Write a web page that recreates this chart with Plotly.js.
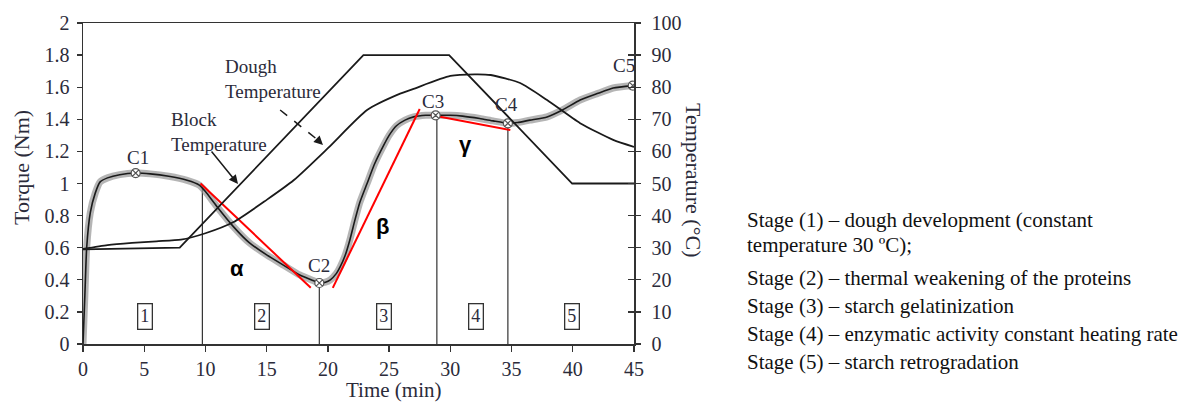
<!DOCTYPE html>
<html>
<head>
<meta charset="utf-8">
<script src="https://cdn.plot.ly/plotly-3.0.1.min.js"></script>
<style>
  html, body { margin: 0; padding: 0; background: #fff; }
  #chart { width: 1183px; height: 403px; }
</style>
</head>
<body>
<div id="chart"></div>
<script>
// ---- Data ----
const torqueTime = [0, 0.15, 0.3, 0.6, 1.0, 1.4, 2.0, 3.0, 4.3, 5.5, 7.0, 8.5, 9.5, 10.0, 10.9, 12.3, 13.6, 15.0, 16.4, 17.7, 18.8, 19.3, 19.8, 20.2, 20.7, 21.0, 21.4, 21.8, 22.2, 22.6, 23.2, 23.8, 24.5, 25.0, 25.6, 26.3, 27.0, 28.0, 28.8, 30.0, 31.0, 32.4, 33.5, 34.7, 35.5, 36.5, 37.9, 39.2, 40.6, 42.0, 43.3, 44.9];
const torqueNm   = [0, 0.30, 0.60, 0.82, 0.94, 1.01, 1.035, 1.055, 1.065, 1.06, 1.045, 1.02, 0.99, 0.95, 0.86, 0.73, 0.63, 0.555, 0.49, 0.43, 0.395, 0.38, 0.385, 0.40, 0.44, 0.48, 0.55, 0.65, 0.77, 0.88, 1.00, 1.12, 1.23, 1.30, 1.36, 1.395, 1.415, 1.425, 1.425, 1.425, 1.42, 1.405, 1.39, 1.375, 1.38, 1.395, 1.415, 1.46, 1.52, 1.56, 1.595, 1.61];

const doughTime = [0, 2, 4, 6, 8, 10, 12.3, 15, 17.2, 20, 23.2, 25.9, 27, 30, 32, 33.3, 35.7, 37.9, 40.6, 43.3, 45];
const doughTemp = [29.6, 30.8, 31.5, 32, 32.5, 34.5, 38, 44.9, 51, 61, 72.9, 78, 79.5, 83.5, 84, 83.8, 81.3, 76, 68.8, 63.6, 61.4];

const blockTime = [0, 7.9, 22.9, 29.9, 39.95, 45];
const blockTemp = [29.5, 30, 90, 90, 50, 50];

const pointLabels = ["C1", "C2", "C3", "C4", "C5"];
const pointTime   = [4.3, 19.3, 28.8, 34.7, 44.9];
const pointTorque = [1.065, 0.38, 1.425, 1.375, 1.61];
const labelTorque = [1.165, 0.49, 1.51, 1.49, 1.735];
const labelTime   = [4.5, 19.3, 28.6, 34.6, 44.2];

const boundTime = [9.75, 19.3, 28.9, 34.7];
const boundTop  = [0.98, 0.38, 1.42, 1.375];

const stageNames  = ["1", "2", "3", "4", "5"];
const stageTime   = [5.05, 14.6, 24.6, 32.1, 39.9];
const stageTorque = 0.174;

const tangentNames = ["α", "β", "γ"];
const tangentX = [[9.6, 18.6], [20.4, 27.5], [28.4, 34.9]];
const tangentY = [[1.0, 0.35], [0.35, 1.464], [1.427, 1.333]];
const greekTime   = [12.6, 24.5, 31.2];
const greekTorque = [0.47, 0.735, 1.24];

const stageDescriptions = [
  "Stage (1) – dough development (constant",
  "temperature 30 ºC);",
  "Stage (2) – thermal weakening of the proteins",
  "Stage (3) – starch gelatinization",
  "Stage (4) – enzymatic activity constant heating rate",
  "Stage (5) – starch retrogradation"
];
const descY = [220, 245, 278, 306, 334, 362];

// ---- Figure ----
const W = 1183, H = 403;
const M = {l: 83, r: 549, t: 23, b: 59};
const plotH = H - M.t - M.b;
const pyPaper = py => (H - M.b - py) / plotH;
const pxPaper = px => (px - M.l) / (W - M.l - M.r);

const serif = "Liberation Serif, Times New Roman, serif";
const ink = "#2b2b3a";

const traces = [];

// block temperature
traces.push({x: blockTime, y: blockTemp, yaxis: 'y2', mode: 'lines',
  line: {color: '#1a1a1a', width: 1.8}, hoverinfo: 'skip'});
// dough temperature
traces.push({x: doughTime, y: doughTemp, yaxis: 'y2', mode: 'lines',
  line: {color: '#1a1a1a', width: 1.8, shape: 'spline', smoothing: 0.6}, hoverinfo: 'skip'});
// stage boundaries
boundTime.forEach((t, i) => {
  traces.push({x: [t, t], y: [0, boundTop[i]], mode: 'lines',
    line: {color: '#333', width: 1.2}, hoverinfo: 'skip'});
});
// torque noise band
traces.push({x: torqueTime, y: torqueNm, mode: 'lines',
  line: {color: 'rgba(150,150,150,0.7)', width: 7, shape: 'spline', smoothing: 0.5}, hoverinfo: 'skip'});
// torque mean
traces.push({x: torqueTime, y: torqueNm, mode: 'lines',
  line: {color: '#1a1a1a', width: 1.6, shape: 'spline', smoothing: 0.5}, hoverinfo: 'skip'});
// tangents
tangentX.forEach((xs, i) => {
  traces.push({x: xs, y: tangentY[i], mode: 'lines',
    line: {color: '#ff0000', width: 2}, hoverinfo: 'skip'});
});
// characteristic points
traces.push({x: pointTime, y: pointTorque, mode: 'markers',
  marker: {symbol: 'circle-x', size: 9, color: 'white', line: {color: '#555', width: 1.2}},
  hoverinfo: 'skip'});

const annotations = [];
pointLabels.forEach((lab, i) => {
  annotations.push({x: labelTime[i], y: labelTorque[i], xref: 'x', yref: 'y', text: lab,
    xanchor: 'center', yanchor: 'middle',
    showarrow: false, font: {family: serif, size: 19, color: ink}});
});
stageNames.forEach((s, i) => {
  annotations.push({x: stageTime[i], y: stageTorque, xref: 'x', yref: 'y', text: s,
    xanchor: 'center', yanchor: 'middle',
    showarrow: false, font: {family: serif, size: 18, color: ink},
    bordercolor: '#333', borderwidth: 1.3, borderpad: 2});
});
tangentNames.forEach((g, i) => {
  annotations.push({x: greekTime[i], y: greekTorque[i], xref: 'x', yref: 'y', text: '<b>' + g + '</b>',
    xanchor: 'center', yanchor: 'middle',
    showarrow: false, font: {family: 'Liberation Sans, Arial, sans-serif', size: 22, color: '#000'}});
});
// curve labels
annotations.push({x: 11.44, y: 1.654, xref: 'x', yref: 'y', xanchor: 'left', yanchor: 'middle', align: 'left',
  text: 'Dough<br>Temperature', showarrow: false, font: {family: serif, size: 19, color: ink}});
annotations.push({x: 7.05, y: 1.318, xref: 'x', yref: 'y', xanchor: 'left', yanchor: 'middle', align: 'left',
  text: 'Block<br>Temperature', showarrow: false, font: {family: serif, size: 19, color: ink}});
// block arrow (solid)
annotations.push({x: 12.66, y: 0.997, xref: 'x', yref: 'y', ax: 10.4, ay: 1.209, axref: 'x', ayref: 'y',
  text: '', showarrow: true, arrowhead: 2, arrowsize: 1.2, arrowwidth: 1.5, arrowcolor: '#1a1a1a', standoff: 0});
// dough arrow head (dashed shaft drawn as shape)
annotations.push({x: 19.6, y: 1.24, xref: 'x', yref: 'y', ax: 19.0, ay: 1.284, axref: 'x', ayref: 'y',
  text: '', showarrow: true, arrowhead: 2, arrowsize: 1.2, arrowwidth: 1.5, arrowcolor: '#1a1a1a', standoff: 0});
// axis titles
annotations.push({x: pxPaper(21), y: pyPaper(168), xref: 'paper', yref: 'paper', text: 'Torque (Nm)',
  xanchor: 'center', yanchor: 'middle',
  textangle: -90, showarrow: false, font: {family: serif, size: 22, color: ink}});
annotations.push({x: pxPaper(694), y: pyPaper(180), xref: 'paper', yref: 'paper', text: 'Temperature (°C)',
  xanchor: 'center', yanchor: 'middle',
  textangle: 90, showarrow: false, font: {family: serif, size: 22, color: ink}});
annotations.push({x: pxPaper(394), y: pyPaper(390), xref: 'paper', yref: 'paper', text: 'Time (min)',
  xanchor: 'center', yanchor: 'middle',
  showarrow: false, font: {family: serif, size: 21, color: ink}});
// stage descriptions
stageDescriptions.forEach((d, i) => {
  annotations.push({x: pxPaper(745), y: pyPaper(descY[i]), xref: 'paper', yref: 'paper',
    xanchor: 'left', yanchor: 'middle', align: 'left', text: d, showarrow: false,
    font: {family: serif, size: 21, color: '#111'}});
});

const shapes = [
  {type: 'line', xref: 'x', yref: 'y', x0: 16.1, y0: 1.458, x1: 19.2, y1: 1.27,
   line: {color: '#1a1a1a', width: 1.5, dash: 'dash'}}
];

const axisCommon = {
  showgrid: false, zeroline: false, showline: true, linecolor: '#333', linewidth: 1.5,
  tickcolor: '#333', tickwidth: 1.3,
  tickfont: {family: serif, size: 20, color: ink}
};

const layout = {
  width: W, height: H,
  margin: M,
  paper_bgcolor: '#fff', plot_bgcolor: '#fff',
  showlegend: false,
  xaxis: Object.assign({}, axisCommon, {range: [0, 45], dtick: 5, tick0: 0, ticks: 'outside', ticklen: 6,
    mirror: true, ticklabelstandoff: 0}),
  yaxis: Object.assign({}, axisCommon, {range: [0, 2], dtick: 0.2, tick0: 0, ticks: 'outside', ticklen: 5,
    ticklabelstandoff: 3}),
  yaxis2: Object.assign({}, axisCommon, {range: [0, 100], dtick: 10, tick0: 0, overlaying: 'y', side: 'right',
    ticks: 'outside', ticklen: 5, ticklabelstandoff: 7}),
  yaxis3: {range: [0, 100], dtick: 10, tick0: 0, overlaying: 'y', side: 'right', ticks: 'inside', ticklen: 6,
    tickcolor: '#333', tickwidth: 1.3, showticklabels: false, showline: false, showgrid: false, zeroline: false},
  annotations: annotations,
  shapes: shapes
};

// invisible anchor trace so that the inner tick marks of the right axis are drawn
traces.push({x: [0], y: [0], yaxis: 'y3', mode: 'markers', marker: {opacity: 0}, hoverinfo: 'skip'});

Plotly.newPlot('chart', traces, layout, {staticPlot: true, displayModeBar: false});
</script>
</body>
</html>
